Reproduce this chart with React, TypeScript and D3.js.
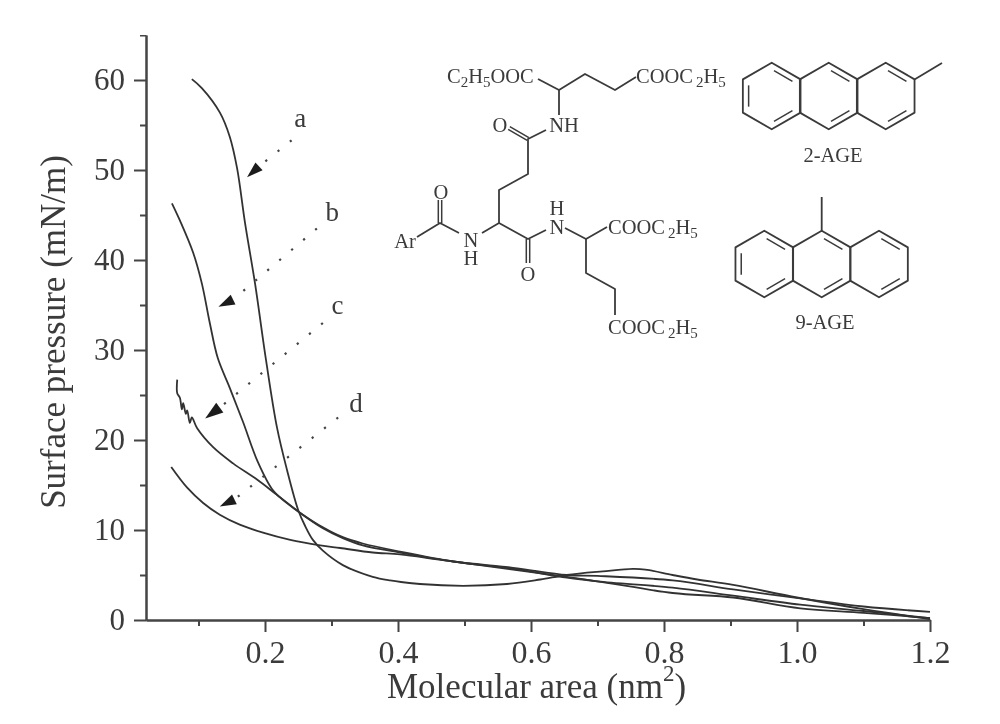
import React, { useEffect, useRef } from "react";
import * as d3 from "d3";

type Pt = [number, number];

const curveA: Pt[] = [[.09,60.1],[.105,59.1],[.132,56.4],[.147,53.7],[.158,50.2],[.17,44.1],[.185,37.4],[.2015,28.9],[.218,21.4],[.233,16.7],[.25,12.2],[.26,10.5],[.272,8.9],[.287,7.7],[.317,6.1],[.362,4.8],[.388,4.4],[.433,4.0],[.498,3.8],[.564,4.0],[.614,4.5],[.654,5.0],[.708,5.4],[.753,5.67],[.772,5.6],[.813,5.0],[.85,4.5],[.904,3.9],[1.0,2.5],[1.1,1.2],[1.2,0.1]];
const curveB: Pt[] = [[.06,46.3],[.072,44.4],[.092,40.8],[.105,37.4],[.117,33],[.129,29.1],[.147,25.8],[.167,22],[.189,17.6],[.212,14.4],[.233,13],[.253,11.9],[.287,10.3],[.317,9.2],[.347,8.5],[.403,7.6],[.483,6.5],[.573,5.7],[.654,4.7],[.7,4.3],[.813,3.0],[.904,2.5],[1.005,1.3],[1.1,0.8],[1.2,0.2]];
const curveC: Pt[] = [[.068,26.7],[.068,25.2],[.072,24.7],[.075,23.4],[.077,24.1],[.081,22.9],[.083,23.3],[.087,21.9],[.09,22.5],[.098,21.3],[.122,19.2],[.152,17.4],[.188,15.6],[.218,13.9],[.253,11.9],[.287,10.2],[.317,9.1],[.347,8.3],[.403,7.5],[.483,6.5],[.573,5.8],[.654,5.0],[.7,4.9],[.813,4.4],[.904,3.4],[1.005,2.4],[1.1,1.5],[1.2,0.9]];
const curveD: Pt[] = [[.059,17],[.083,14.7],[.107,13],[.132,11.7],[.162,10.6],[.197,9.7],[.238,8.9],[.283,8.3],[.313,8.0],[.362,7.5],[.403,7.3],[.463,6.7],[.573,5.6],[.654,4.8],[.7,4.3],[.813,3.6],[.904,2.7],[1.005,1.7],[1.1,1.0],[1.2,0.2]];
const curves = [curveA, curveB, curveC, curveD];

const xMajor = [0.2, 0.4, 0.6, 0.8, 1.0, 1.2];
const xMinor = [0.1, 0.3, 0.5, 0.7, 0.9, 1.1];
const yMajor = [0, 10, 20, 30, 40, 50, 60];
const yMinor = [5, 15, 25, 35, 45, 55, 65];

const curveLabels = ["a", "b", "c", "d"];
const labelAt: Pt[] = [[.253,55.5],[.301,45],[.309,34.7],[.337,23.8]];
const lineStart: Pt[] = [[.24,53.3],[.278,43.5],[.287,33],[.31,22.5]];
const arrowTip: Pt[] = [[.173,49.2],[.13,34.8],[.11,22.4],[.132,12.6]];
const arrowBase: Pt[] = [[.191,50.4],[.152,35.6],[.132,23.6],[.154,13.4]];

const INK = "#3a3a3a";
const FONT = "'Liberation Serif', serif";
const CHEM = 20.5;
const SUB = 15;

// Decorative structural formula, in page pixels.
const bonds: Pt[][] = [
  [[559,115],[559,90],[585,74],[615,90],[636,77]],
  [[538,79],[559,90]],
  [[546,130],[528,139],[528,174],[499,190],[499,223],[482,233]],
  [[499,223],[528,239],[546,230]],
  [[565,228],[586,239],[607,227]],
  [[586,239],[586,273],[615,289],[615,315]],
  [[417,237],[440,223],[459,233]],
];
const doubleBonds: [Pt, Pt][] = [
  [[528,139],[509,128]],
  [[528,239],[528,263]],
  [[440,223],[440,200]],
];
const hexRows: { cx: number[]; cy: number; methyl: [Pt, Pt] }[] = [
  { cx: [771.7, 828.7, 885.7], cy: 96, methyl: [[914.5,79.5],[942,63]] },
  { cx: [764.3, 821.7, 879], cy: 264, methyl: [[821.7,231],[821.7,197]] },
];

function Sub({ children }: { children: React.ReactNode }) {
  return <tspan fontSize={SUB} dy={4}>{children}</tspan>;
}

function Ester({ x, y, gap = 3 }: { x: number; y: number; gap?: number }) {
  return (
    <text x={x} y={y} fontFamily={FONT} fontSize={CHEM} fill={INK}>
      COOC<tspan fontSize={SUB} dy={4} dx={gap}>2</tspan>
      <tspan dy={-4}>H</tspan><Sub>5</Sub>
    </text>
  );
}

function Hex({ cx, cy, first }: { cx: number; cy: number; first: boolean }) {
  const R = 33.3;
  const v = d3.range(6).map((k) => {
    const a = ((-90 + 60 * k) * Math.PI) / 180;
    return [cx + R * Math.cos(a), cy + R * Math.sin(a)] as Pt;
  });
  const inner = (i: number, j: number) => {
    const s = 0.8;
    const p = v[i], q = v[j];
    const m = (t: Pt): Pt => [cx + (t[0] - cx) * s, cy + (t[1] - cy) * s];
    const P = m(p), Q = m(q);
    const shr = 0.1;
    return `M${P[0] + (Q[0] - P[0]) * shr},${P[1] + (Q[1] - P[1]) * shr}L${Q[0] - (Q[0] - P[0]) * shr},${Q[1] - (Q[1] - P[1]) * shr}`;
  };
  const d = d3.line()(v)! + "Z";
  return (
    <g fill="none" stroke={INK} strokeWidth={1.8}>
      <path d={d} strokeLinejoin="round" />
      <path d={inner(0, 1)} strokeWidth={1.5} />
      <path d={inner(2, 3)} strokeWidth={1.5} />
      {first && <path d={inner(4, 5)} strokeWidth={1.5} />}
    </g>
  );
}

export default function App() {
  const xRef = useRef<SVGGElement>(null);
  const xMinRef = useRef<SVGGElement>(null);
  const yRef = useRef<SVGGElement>(null);
  const yMinRef = useRef<SVGGElement>(null);

  const x = d3.scaleLinear().domain([0.2, 1.2]).range([265, 930]);
  const y = d3.scaleLinear().domain([0, 60]).range([620, 80]);
  const x0 = x.invert(146);
  const line = d3.line<Pt>().x((d) => x(d[0])).y((d) => y(d[1])).curve(d3.curveCatmullRom.alpha(0.5));

  useEffect(() => {
    const xs = x.copy().domain([x0, 1.2]).range([146, 930]);
    const ys = y.copy().domain([0, 65]).range([620, y(65)]);
    const style = (size: number) => (g: d3.Selection<SVGGElement, unknown, null, undefined>) => {
      g.selectAll("path,line").attr("stroke", "#444").attr("stroke-width", 2);
      g.selectAll("text").attr("font-family", FONT).attr("font-size", size).attr("fill", INK);
    };
    d3.select(xRef.current!).call(
      d3.axisBottom(xs).tickValues(xMajor).tickSize(12).tickSizeOuter(0).tickPadding(8).tickFormat(d3.format(".1f") as any)
    ).call(style(32));
    d3.select(xMinRef.current!).call(
      d3.axisBottom(xs).tickValues(xMinor).tickSize(6).tickSizeOuter(0).tickFormat(() => "")
    ).call(style(32));
    d3.select(yRef.current!).call(
      d3.axisLeft(ys).tickValues(yMajor).tickSize(12).tickSizeOuter(0).tickPadding(9).tickFormat(d3.format("d") as any)
    ).call(style(31));
    d3.select(yMinRef.current!).call(
      d3.axisLeft(ys).tickValues(yMinor).tickSize(6).tickSizeOuter(0).tickFormat(() => "")
    ).call(style(31));
  }, []);

  return (
    <svg width={1000} height={724} style={{ position: "absolute", left: 0, top: 0, background: "#fff" }}>
      <defs>
        <filter id="soft" x="0" y="0" width="100%" height="100%">
          <feGaussianBlur stdDeviation="0.45" />
        </filter>
      </defs>
      <g filter="url(#soft)">
        <g ref={xRef} transform="translate(0,620)" />
        <g ref={xMinRef} transform="translate(0,620)" />
        <g ref={yRef} transform="translate(146,0)" />
        <g ref={yMinRef} transform="translate(146,0)" />

        {curves.map((c, i) => (
          <path key={i} d={line(c)!} fill="none" stroke="#333" strokeWidth={1.8} strokeLinejoin="round" />
        ))}

        {curveLabels.map((l, i) => {
          const [tx, ty] = [x(arrowTip[i][0]), y(arrowTip[i][1])];
          const [bx, by] = [x(arrowBase[i][0]), y(arrowBase[i][1])];
          const [sx, sy] = [x(lineStart[i][0]), y(lineStart[i][1])];
          const nx = -(by - ty) * 0.33, ny = (bx - tx) * 0.33;
          return (
            <g key={l}>
              <line x1={sx} y1={sy} x2={bx} y2={by} stroke="#444" strokeWidth={2.2} strokeDasharray="2.2 13.5" />
              <path d={`M${tx},${ty}L${bx + nx},${by + ny}L${bx - nx},${by - ny}Z`} fill="#1c1c1c" />
              <text x={x(labelAt[i][0])} y={y(labelAt[i][1])} fontFamily={FONT} fontSize={27} fill={INK} textAnchor="middle" dominantBaseline="middle">{l}</text>
            </g>
          );
        })}

        <text x={387} y={698} fontFamily={FONT} fontSize={35} fill={INK}>
          Molecular area (nm<tspan fontSize={23} dy={-17}>2</tspan><tspan dy={17}>)</tspan>
        </text>
        <text transform="translate(65,332) rotate(-90)" textAnchor="middle" fontFamily={FONT} fontSize={35} fill={INK}>
          Surface pressure (mN/m)
        </text>

        <g fill="none" stroke={INK} strokeWidth={1.8} strokeLinejoin="round">
          {bonds.map((b, i) => <path key={i} d={d3.line()(b)!} />)}
          {doubleBonds.map(([p, q], i) => {
            const dx = q[0] - p[0], dy = q[1] - p[1];
            const L = Math.hypot(dx, dy);
            const ox = (-dy / L) * 3.4, oy = (dx / L) * 3.4;
            return <path key={i} d={`M${p[0] - ox / 2},${p[1] - oy / 2}L${q[0] - ox / 2},${q[1] - oy / 2}M${p[0] + ox / 2},${p[1] + oy / 2}L${q[0] + ox / 2},${q[1] + oy / 2}`} strokeWidth={1.5} />;
          })}
        </g>

        <text x={447} y={83} fontFamily={FONT} fontSize={CHEM} fill={INK}>
          C<Sub>2</Sub><tspan dy={-4}>H</tspan><Sub>5</Sub><tspan dy={-4}>OOC</tspan>
        </text>
        <Ester x={636} y={83} />
        <Ester x={608} y={234} />
        <Ester x={608} y={334} />
        <g fontFamily={FONT} fontSize={CHEM} fill={INK} textAnchor="middle">
          <text x={564} y={132}>NH</text>
          <text x={500} y={132}>O</text>
          <text x={528} y={281}>O</text>
          <text x={441} y={199}>O</text>
          <text x={405} y={248}>Ar</text>
          <text><tspan x={471} y={247}>N</tspan><tspan x={471} y={265}>H</tspan></text>
          <text><tspan x={557} y={215}>H</tspan><tspan x={557} y={234}>N</tspan></text>
        </g>

        {hexRows.map((r, i) => (
          <g key={i}>
            {r.cx.map((cx, j) => <Hex key={j} cx={cx} cy={r.cy} first={j === 0} />)}
            <line x1={r.methyl[0][0]} y1={r.methyl[0][1]} x2={r.methyl[1][0]} y2={r.methyl[1][1]} stroke={INK} strokeWidth={1.8} />
          </g>
        ))}
        <text x={833} y={162} textAnchor="middle" fontFamily={FONT} fontSize={20.5} fill={INK}>2-AGE</text>
        <text x={825} y={329} textAnchor="middle" fontFamily={FONT} fontSize={20.5} fill={INK}>9-AGE</text>
      </g>
    </svg>
  );
}
